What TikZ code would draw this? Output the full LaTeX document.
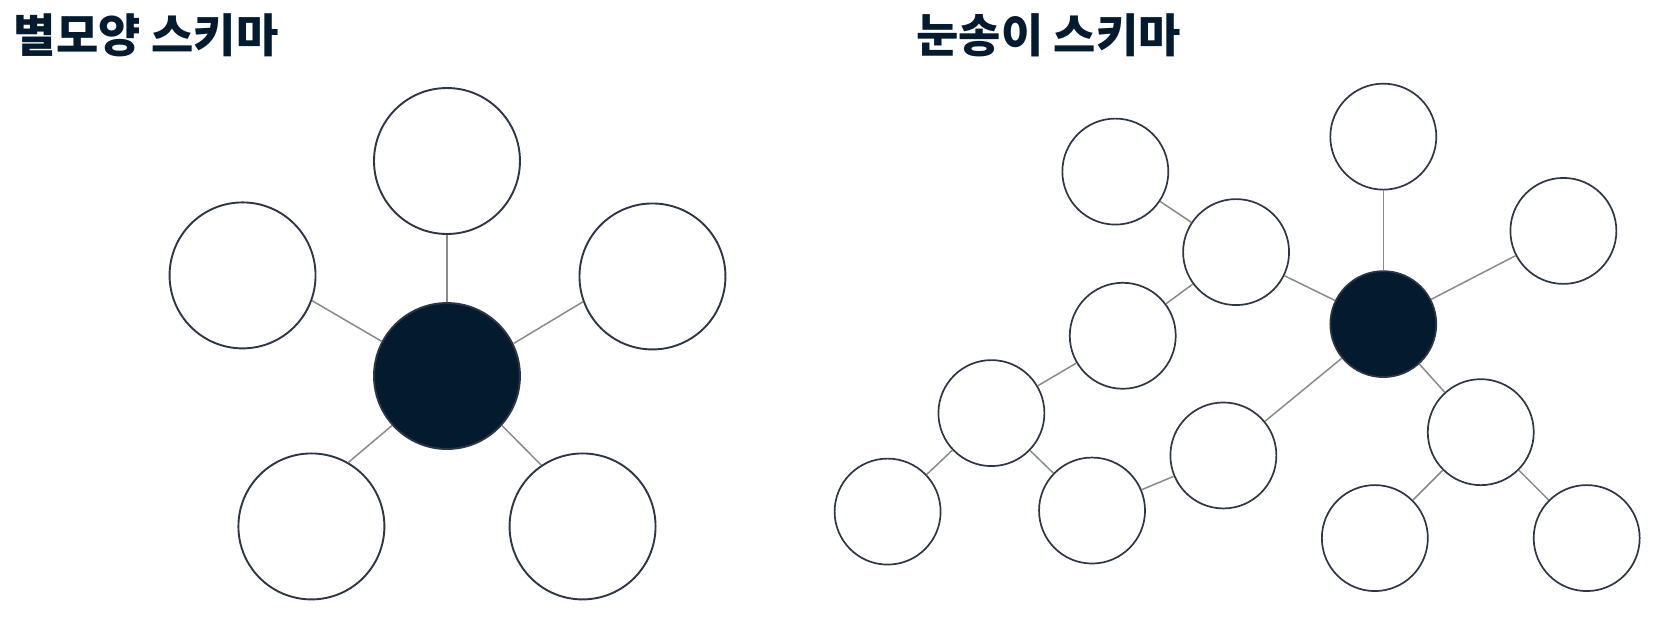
\documentclass[tikz,border=0pt]{standalone}
\usepackage{fontspec}
\newfontfamily\krfont{Noto Sans CJK KR}
\usepackage{tikz}
\definecolor{navy}{HTML}{041A2E}
\definecolor{rim}{HTML}{2E3646}
\definecolor{link}{HTML}{8A8A8A}

\begin{document}
\begin{tikzpicture}[x=1.0594pt,y=-1.0594pt,
  big/.style={circle, draw=rim, line width=1.9pt, fill=white, minimum size=146pt, inner sep=0pt},
  small/.style={circle, draw=rim, line width=1.7pt, fill=white, minimum size=106pt, inner sep=0pt},
  hub/.style={fill=navy},
  link/.style={draw=link, line width=1.5pt},
  title/.style={anchor=west, inner sep=0pt, text=navy, font=\krfont\bfseries\fontsize{46}{48}\selectfont}]
\useasboundingbox (0,0) rectangle (1571,589);

% star schema
\node [title] (t1) at (13,33) {별모양 스키마};
\node [big,hub] (s0) at (422,355) {};
\node [big] (s1) at (422,152) {};
\node [big] (s2) at (229,260) {};
\node [big] (s3) at (616,261) {};
\node [big] (s4) at (294,497) {};
\node [big] (s5) at (550,497) {};
\foreach \i/\a/\b in {1/90/270,2/152/-20,3/26/200,4/222/60,5/318/124}
  \draw [link] (s0.\a) -- (s\i.\b);

% snowflake schema
\node [title] (t2) at (865,33) {눈송이 스키마};
\node [small,hub] (f0) at (1306,306) {};
\node [small] (f1) at (1306,129) {};
\node [small] (f2) at (1476,218) {};
\node [small] (f3) at (1398,408) {};
\node [small] (f4) at (1298,508) {};
\node [small] (f5) at (1498,508) {};
\node [small] (f6) at (1167,238) {};
\node [small] (f7) at (1053,162) {};
\node [small] (f8) at (1060,317) {};
\node [small] (f9) at (936,390) {};
\node [small] (f10) at (838,483) {};
\node [small] (f11) at (1031,482) {};
\node [small] (f12) at (1155,430) {};
\foreach \a/\b in {f0/f1,f0/f2,f0/f3,f0/f6,f0/f12,f3/f4,f3/f5,f6/f7,f6/f8,f8/f9,f9/f10,f9/f11,f11/f12}
  \draw [link] (\a) -- (\b);
\end{tikzpicture}
\end{document}
